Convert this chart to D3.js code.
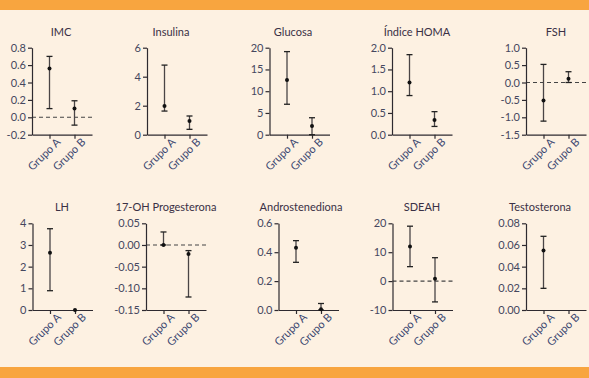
<!DOCTYPE html>
<html lang="es">
<head>
<meta charset="utf-8">
<title>Paneles</title>
<script src="https://cdn.jsdelivr.net/npm/d3@7"></script>
<style>
  body { margin: 0; background: #fdf1e2; }
  svg { display: block; }
  .tick text { font-family: Lato, "Open Sans", sans-serif; font-size: 11px; fill: #45475e; }
  .title { font-family: Lato, "Open Sans", sans-serif; font-size: 11px; fill: #3a3045; }
</style>
</head>
<body>
<script>
// data
const titles = ["IMC", "Insulina", "Glucosa", "Índice HOMA", "FSH",
                "LH", "17-OH Progesterona", "Androstenediona", "SDEAH", "Testosterona"];
const groups = ["Grupo A", "Grupo B"];

const meanA = [0.56, 1.98, 12.6, 1.2, -0.52, 2.64, 0.0, 0.43, 12.0, 0.055];
const lowA  = [0.10, 1.63, 7.0, 0.9, -1.11, 0.89, 0.0, 0.33, 5.0, 0.020];
const highA = [0.70, 4.8, 19.1, 1.84, 0.52, 3.75, 0.03, 0.48, 19.0, 0.068];

const meanB = [0.10, 0.94, 2.0, 0.34, 0.11, 0.0, -0.021, 0.005, 0.8, null];
const lowB  = [-0.09, 0.37, 0.0, 0.19, 0.0, 0.0, -0.12, 0.0, -7.2, null];
const highB = [0.19, 1.29, 3.9, 0.53, 0.31, 0.0, -0.013, 0.045, 8.1, null];

const yTicks = [
  [-0.2, 0.0, 0.2, 0.4, 0.6, 0.8],
  [0, 2, 4, 6],
  [0, 5, 10, 15, 20],
  [0.0, 0.5, 1.0, 1.5, 2.0],
  [-1.5, -1.0, -0.5, 0.0, 0.5, 1.0],
  [0, 1, 2, 3, 4],
  [-0.15, -0.10, -0.05, 0.00, 0.05],
  [0.0, 0.2, 0.4, 0.6],
  [-10, 0, 10, 20],
  [0.00, 0.02, 0.04, 0.06, 0.08]
];
const tickFormats = [".1f", "d", "d", ".1f", ".1f", "d", ".2f", ".1f", "d", ".2f"];
const zeroLine = [true, false, false, false, true, false, true, false, true, false];

// layout
const W = 589, H = 378;
const axisX = [32, 147, 269.5, 392, 526, 32.5, 146, 278.5, 392.5, 526];
const titleX = [61, 171, 293, 417, 556, 62, 166, 301, 422, 540];
const plotTop = [47.7, 223.3];
const plotBottom = [134.7, 310];
const plotW = 60;

const svg = d3.select("body").append("svg")
  .attr("width", W)
  .attr("height", H);

svg.append("rect").attr("x", 0).attr("y", 0).attr("width", W).attr("height", H).attr("fill", "#fdf1e2");
svg.append("rect").attr("x", 0).attr("y", 0).attr("width", W).attr("height", 10).attr("fill", "#f8a53f");
svg.append("rect").attr("x", 0).attr("y", 367).attr("width", W).attr("height", 11).attr("fill", "#f8a53f");

titles.forEach(function(title, i) {
  let row = i < 5 ? 0 : 1;
  let x0 = axisX[i];
  let ticks = yTicks[i];
  let fmt = d3.format(tickFormats[i]);

  let x = d3.scalePoint()
    .domain(groups)
    .range([x0, x0 + plotW])
    .padding(0.7);

  let y = d3.scaleLinear()
    .domain([ticks[0], ticks[ticks.length - 1]])
    .range([plotBottom[row], plotTop[row]]);

  let g = svg.append("g");

  g.append("text")
    .attr("class", "title")
    .attr("x", titleX[i])
    .attr("y", plotTop[row] - 12)
    .attr("text-anchor", "middle")
    .text(title);

  if (zeroLine[i]) {
    g.append("line")
      .attr("x1", x0).attr("x2", x0 + plotW)
      .attr("y1", y(0)).attr("y2", y(0))
      .attr("stroke", "#444")
      .attr("stroke-width", 1.1)
      .attr("stroke-dasharray", "4,3");
  }

  let yAxis = d3.axisLeft(y)
    .tickValues(ticks)
    .tickFormat((d) => fmt(d).replace("\u2212", "-"))
    .tickSize(4)
    .tickSizeOuter(0)
    .tickPadding(2);

  g.append("g")
    .attr("transform", "translate(" + x0 + ",0)")
    .call(yAxis);

  let xAxis = d3.axisBottom(x)
    .tickSize(4)
    .tickSizeOuter(0);

  let xa = g.append("g")
    .attr("transform", "translate(0," + plotBottom[row] + ")")
    .call(xAxis);

  xa.selectAll("text")
    .attr("text-anchor", "end")
    .attr("dx", "0.2em")
    .attr("dy", "0.6em")
    .attr("transform", "rotate(-45)")
    .style("fill", "#3a4670");

  g.selectAll(".domain, .tick line")
    .attr("stroke", "#2e2a30")
    .attr("stroke-width", 1.2);

  let pts = [];
  if (meanA[i] !== null) pts.push({ grp: groups[0], m: meanA[i], lo: lowA[i], hi: highA[i] });
  if (meanB[i] !== null) pts.push({ grp: groups[1], m: meanB[i], lo: lowB[i], hi: highB[i] });

  let bars = g.selectAll(".bar")
    .data(pts)
    .enter()
    .append("g")
    .attr("class", "bar");

  bars.append("line")
    .attr("x1", (d) => x(d.grp)).attr("x2", (d) => x(d.grp))
    .attr("y1", (d) => y(d.lo)).attr("y2", (d) => y(d.hi))
    .attr("stroke", "#4a4546")
    .attr("stroke-width", 1.3);

  ["lo", "hi"].forEach(function(k) {
    bars.filter((d) => d.hi !== d.lo)
      .append("line")
      .attr("x1", (d) => x(d.grp) - 3).attr("x2", (d) => x(d.grp) + 3)
      .attr("y1", (d) => y(d[k])).attr("y2", (d) => y(d[k]))
      .attr("stroke", "#222")
      .attr("stroke-width", 1.3);
  });

  bars.append("circle")
    .attr("cx", (d) => x(d.grp))
    .attr("cy", (d) => y(d.m))
    .attr("r", 2)
    .attr("fill", "#111");
});
</script>
</body>
</html>
